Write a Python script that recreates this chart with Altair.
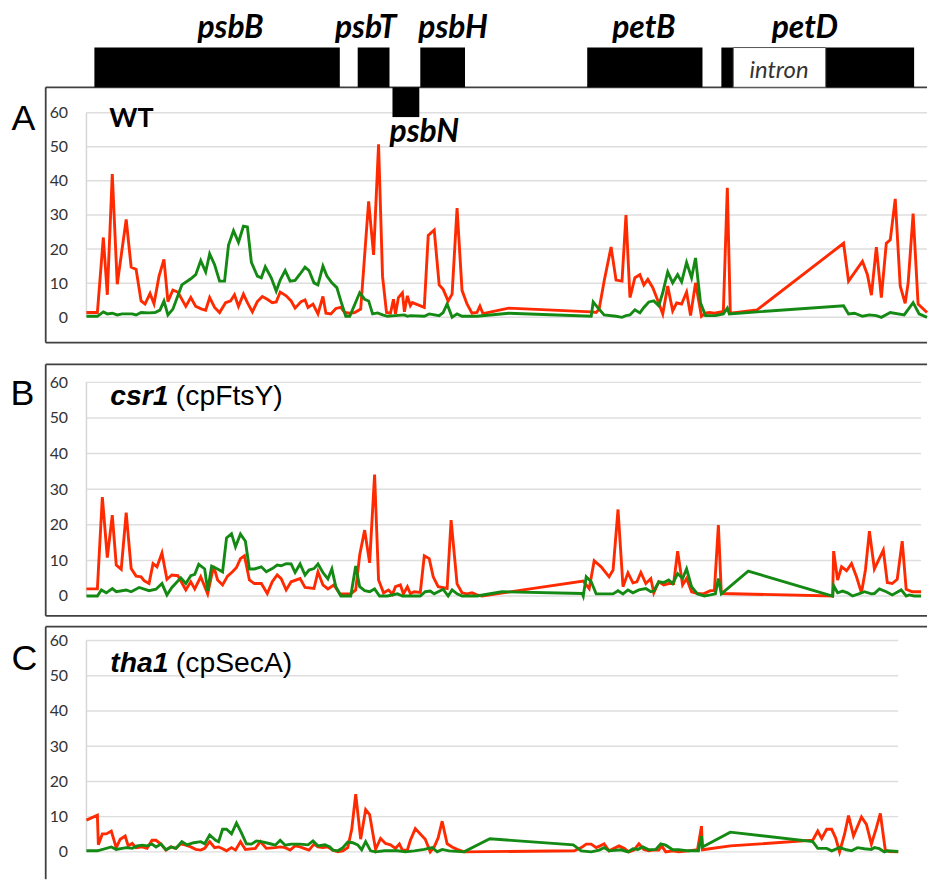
import altair as alt
import pandas as pd

# ---------------- data (position along the map, value) ----------------
RED_A = [(87,1.4),(98,1.4),(104,23.4),(108,6.6),(113,42),(118,9.7),(127,28.7),(132,14.7),(137,14),(142,4.8),
         (146,3.9),(151,7),(155,4),(160,12),(165,17),(169,4.6),(174,8),(179,7.4),(187,3.2),(192,5.8),(197,3.2),
         (203,2.4),(207,2.1),(211,5.8),(216,2.9),(221,1.4),(227,4.3),(232,4.8),(236,6.6),(240,3.2),(245,6.8),
         (249,4.3),(254,1.6),(259,4.6),(264,6.1),(269,5.3),(274,4.3),(278,4.5),(282,7.4),(288,6.3),(293,4.8),
         (297,2.7),(303,4.6),(307,5.1),(310,2.9),(315,3.9),(320,1),(325,6.1),(328,1.2),(333,1),(338,2.6),(343,2.9),
         (347,1.4),(352,1.2),(357,1.4),(363,2.4),(371,34),(376,18.3),(381,50.7),(385,12),(389,1.4),(393,1.2),
         (396,5.3),(398,1),(401,5.8),(405,7.2),(407,1.6),(410,6.3),(413,3.4),(415,4.3),(427,2.9),(431,24),
         (437,25.6),(442,9.5),(446,8.2),(451,4.8),(455,6.8),(460,32),(465,7.9),(470,3.9),(475,1.2),(480,1.4),
         (483,3.3),(486,1.1),(512,2.7),(595,1.6),(600,1.4),(603,2.4),(608,10.6),(615,20.6),(620,10.9),(626,10.6),
         (630,30),(634,5.8),(639,11.6),(644,12.5),(648,9.5),(652,11.1),(657,8.7),(663,4.2),(667,1),(672,9.2),
         (677,1.9),(681,4.2),(686,3.9),(691,7.4),(695,0.5),(700,10.1),(706,0.3),(710,1.2),(714,1.4),(719,1.2),
         (728,1.7),(732,38),(735,1.2),(762,2.2),(849,21.7),(854,10.6),(868,16.4),(873,12.5),(877,6.5),(882,20.6),
         (887,5.8),(892,21.7),(896,22.7),(901,34.7),(906,9.2),(911,4.1),(914,10.1),(919,30.4),(924,3.9),(933,1.4)]

GREEN_A = [(87,0.3),(98,0.3),(104,1.6),(108,1),(113,1.2),(118,0.7),(123,1),(133,1),(137,0.7),(142,1.4),
           (150,1.3),(156,1.4),(161,2.1),(165,4.8),(169,0.7),(174,2.4),(183,9.5),(192,11.3),(197,12.5),(202,16.6),
           (207,13.3),(211,18.6),(216,15.4),(221,10.6),(226,10.6),(230,21.2),(235,25.4),(240,22),(245,26.7),
           (249,26.5),(253,16.1),(259,12.1),(263,11.6),(267,14.8),(273,11.6),(278,7.7),(282,10.9),(287,13.7),
           (292,10.6),(297,10.8),(302,12.7),(307,14.7),(311,13.7),(316,10.1),(320,9.5),(325,15),(329,12.1),
           (334,10.1),(339,8.7),(343,4.8),(348,0.3),(352,0.3),(362,7.2),(367,5.3),(371,4.8),(375,1),(380,1.3),
           (385,0.7),(390,0.3),(398,0.5),(407,0.7),(410,0.3),(413,0.5),(427,0.3),(432,1),(442,0.5),(446,1.4),
           (450,3.9),(455,0),(460,1),(465,0.3),(480,0.3),(512,1.2),(595,0.3),(597,4.5),(602,2.7),(608,0.7),
           (620,0.3),(626,0),(630,0.5),(634,0.7),(639,2.2),(644,1.3),(648,2.9),(653,4.5),(658,4.8),(663,3.4),
           (667,7.2),(672,13.3),(677,10.1),(682,12.5),(686,10.4),(691,16.1),(696,11.6),(700,17.4),(705,4.3),
           (710,0.5),(720,0.5),(728,1),(732,2.7),(734,1),(849,3.4),(854,1),(860,1.2),(868,0.3),(875,0.7),
           (882,0.5),(887,0),(896,1.4),(910,0.7),(919,4.3),(925,1),(933,0)]

RED_B = [(87,2),(98,2),(103,27.8),(108,10.8),(113,22.7),(117,8.7),(122,7.5),(127,23.4),(132,7.7),(137,5.6),
         (142,5.4),(145,4.3),(150,3.5),(154,9.1),(158,8.2),(163,12.1),(168,4.7),(173,5.9),(179,5.7),(187,1.7),
         (192,4),(196,2),(202,5.4),(209,0.6),(215,8.4),(219,4.5),(224,3.1),(229,5.6),(234,6.8),(238,8),(242,10.5),
         (246,11.3),(251,4.5),(256,3.5),(263,3.5),(269,0.7),(274,4),(279,5.9),(283,4.9),(288,1.7),(293,4),
         (302,4.9),(307,2.4),(316,2.1),(320,6.8),(325,3.1),(330,2),(336,3.1),(342,0.6),(353,0.6),(358,1.7),
         (362,11.5),(367,18.5),(372,9.3),(377,34.1),(381,4.5),(386,0.9),(391,1.7),(395,0.5),(398,2.6),(403,3.1),
         (406,0.6),(410,2.6),(413,0.7),(417,1.2),(423,1),(427,11.3),(432,10.5),(436,5.4),(441,2.6),(450,2.1),
         (454,21.3),(460,3.4),(465,0.9),(470,0.6),(475,0.9),(480,0.3),(485,0),(587,4.2),(593,2.1),(598,9.9),
         (605,8.2),(613,5.4),(617,7.3),(622,24.3),(627,2.6),(632,6.5),(637,3.7),(641,4),(645,6.6),(650,3.5),
         (655,4.9),(658,0.9),(663,4),(668,3.1),(673,3.5),(678,3.5),(682,12.6),(687,3.1),(691,4.9),(696,1.2),
         (702,0.7),(708,0.6),(715,1.5),(719,1.5),(723,19.9),(726,0.7),(838,0),(839,12.6),(843,4.5),(847,8.2),
         (852,7.1),(857,9.1),(862,5.4),(867,0.9),(871,7.3),(875,18.2),(880,7.6),(889,12.9),(893,3.8),(898,3.5),
         (903,4.7),(908,15.4),(912,1.9),(918,1.2),(927,1.2)]

GREEN_B = [(87,0),(98,0),(102,1.7),(107,0.9),(113,2.1),(117,1.2),(127,1.7),(132,1.2),(140,2.4),(150,1.5),
           (157,1.9),(163,3.5),(168,0.3),(173,2.4),(182,5.1),(187,3.5),(192,5.7),(196,6.1),(200,8.9),(206,7.6),
           (209,1.5),(213,8.4),(219,7.6),(224,6.8),(228,16.3),(233,17.5),(237,13.8),(242,17.4),(247,15.4),
           (251,7.6),(256,7.6),(263,8.2),(268,6.8),(274,7.7),(279,8.7),(283,8.5),(288,9.1),(293,9),(297,6.6),
           (302,9),(307,5.9),(311,7.3),(316,7.7),(320,9),(325,6.6),(330,4.8),(334,7.6),(338,2.6),(343,0),(353,0),
           (358,8.4),(362,2.6),(367,1.5),(372,1.2),(377,2),(382,0),(390,0),(400,0.6),(405,0),(423,0),(428,1.2),
           (433,1.4),(437,0.6),(441,1.2),(446,1.9),(451,0),(455,1.7),(460,0.6),(465,0),(480,0),(505,1.2),
           (586,0.7),(587,0),(590,5.4),(595,4),(600,0.6),(617,0.6),(622,1.5),(627,0.6),(632,1.7),(637,0.9),
           (643,1.7),(650,2.1),(655,1.2),(658,1.4),(663,4),(668,3.8),(673,4.5),(677,3.5),(682,6.3),(687,4.9),
           (691,7.6),(696,2.6),(702,0.6),(709,0),(715,0.3),(720,0.6),(723,4.9),(726,0.6),(753,7),(838,0),
           (839,2.9),(843,0.9),(848,1.4),(853,0.9),(858,0),(865,0.7),(870,1.2),(877,0.6),(880,0.7),(885,2),
           (892,1.2),(898,0.3),(907,1.7),(912,0),(915,0.3),(920,0),(927,0)]

RED_C = [(87,9),(98,10.4),(99,2),(103,5.1),(107,5.1),(112,5.9),(117,1.2),(121,3.6),(126,4.5),(129,1.7),
         (133,2.4),(137,1.2),(143,1.4),(148,1),(153,3.3),(157,3.3),(162,2.2),(167,0.5),(172,1.4),(177,1),
         (182,2.3),(187,1.9),(192,1.4),(197,0.7),(202,0.5),(206,1),(211,2.9),(216,1.2),(220,1.4),(224,0.9),
         (228,0.3),(233,1.2),(237,0.5),(242,2.9),(247,0.7),(257,1),(262,2.9),(268,1),(277,1.2),(282,1.4),
         (287,1.2),(292,0.5),(297,1.7),(302,1.4),(306,1),(311,0.5),(316,2.2),(320,1.4),(325,1.2),(330,1.4),
         (335,0.5),(340,0),(345,0.3),(350,1.2),(354,6.4),(358,16.4),(363,3.6),(368,12),(372,10.6),(378,0.7),
         (383,3.8),(388,2.4),(393,2),(398,1),(402,2.2),(405,0.5),(410,0.5),(413,3.3),(418,6.6),(423,5.1),
         (428,3.6),(433,0),(437,1.4),(441,4),(445,8.7),(450,2.3),(455,1.4),(460,0.7),(467,0),(578,0.3),
         (586,1.4),(590,2.2),(595,2.2),(600,1.2),(604,1.7),(608,2.3),(613,0.3),(618,1),(623,1.7),(628,1),
         (633,0),(638,0.5),(643,2.3),(648,0.7),(653,0.3),(657,0.5),(663,0.5),(666,1.7),(670,0),(677,0.3),
         (683,0),(693,0.3),(702,0.6),(706,7.3),(707,0.6),(735,1.7),(818,3.3),(823,5.9),(827,3.8),(832,6.4),
         (837,6.4),(841,4),(845,0),(850,5),(854,10.3),(859,4.5),(867,9.9),(872,7.8),(877,2.2),(882,6.8),
         (886,10.9),(891,0.5),(895,0.1),(904,0)]

GREEN_C = [(87,0.3),(98,0.3),(112,1.4),(117,0.7),(127,1.2),(133,1),(138,1.7),(143,1.9),(148,1.7),(153,2.2),
           (157,1.4),(162,2.2),(167,0.6),(172,1.4),(177,1),(183,2.9),(188,2),(195,2.6),(202,2.9),(206,2.3),
           (211,4.8),(217,3.3),(220,2.9),(224,6.4),(228,6.4),(233,5.1),(238,8.2),(243,5.4),(248,2.3),(253,2.2),
           (258,3.1),(263,2.9),(272,2.3),(277,1.9),(282,3.3),(287,1.9),(293,2.2),(302,2.2),(310,2),(315,3.1),
           (320,1.7),(327,2),(332,1.4),(335,0.5),(340,0.3),(345,1.2),(350,2.8),(355,2.6),(360,2),(364,0.6),
           (368,2.9),(373,0.3),(378,0),(387,0.3),(400,0.3),(408,0),(417,0.3),(427,0.7),(435,1.2),(440,0),
           (445,0.7),(452,0.3),(467,0),(493,3.7),(577,2),(585,0.3),(595,0),(603,0.5),(608,1.2),(613,0.3),
           (625,0.6),(632,0),(637,0.9),(642,0.7),(647,1.4),(653,0.6),(660,0.7),(665,2.3),(670,1.9),(677,0.6),
           (683,0.6),(693,0.3),(703,0.3),(706,4.5),(707,1.4),(735,5.6),(818,2.9),(823,1),(832,1),(837,0.3),
           (845,1.2),(852,0.6),(857,0.3),(863,1.2),(870,0.9),(877,0.7),(880,1.2),(885,0.9),(890,0),(893,0.3),
           (904,0.1)]

Y_TICKS = [0, 10, 20, 30, 40, 50, 60]

GENE_NAMES = ["psbB", "psbT", "psbN", "psbH", "petB", "petD exon 1", "petD intron", "petD exon 2"]
GENE_START = [95, 360, 395, 423, 591, 726, 738, 831]
GENE_END = [342, 392, 422, 468, 707, 738, 831, 920]
GENE_STRAND = [1, 1, -1, 1, 1, 1, 1, 1]
GENE_KIND = ["exon", "exon", "exon", "exon", "exon", "exon", "intron", "exon"]

LABEL_TEXT = ["psbB", "psbT", "psbH", "petB", "petD", "psbN"]
LABEL_POS = [232, 368, 456, 648, 810, 427]
LABEL_STRAND = [1, 1, 1, 1, 1, -1]

# ---------------- styling ----------------
W = 933
XS = alt.Scale(domain=[0, W], nice=False, zero=False)
RED = "#ff2a00"
GREEN = "#148a14"
FRAME = "#404040"
ONE = pd.DataFrame({"k": [0]})


def line(pairs, color, ys):
    df = pd.DataFrame(pairs, columns=["pos", "value"])
    return alt.Chart(df).mark_line(color=color, strokeWidth=2.9).encode(
        x=alt.X("pos:Q", scale=XS, axis=None),
        y=alt.Y("value:Q", scale=ys, axis=None),
    )


def text(t, x, y, size, font, weight="normal", style="normal", align="left", baseline="alphabetic", color="black"):
    return alt.Chart(ONE).mark_text(
        text=t, font=font, fontSize=size, fontWeight=weight, fontStyle=style,
        align=align, baseline=baseline, color=color,
    ).encode(x=alt.value(x), y=alt.value(y))


def panel(red, green, ydom, height, grid_end, frame_top, frame_bottom, letter, letter_x, letter_y, titles, extra=()):
    ys = alt.Scale(domain=ydom, nice=False, zero=False)
    grid = alt.Chart(pd.DataFrame({"v": Y_TICKS})).mark_rule(color="#dedede", strokeWidth=1.5).encode(
        y=alt.Y("v:Q", scale=ys, axis=alt.Axis(
            values=Y_TICKS, grid=False, domain=False, ticks=False, tickSize=0, labelPadding=0,
            offset=-68, labelFont="Lato", labelFontSize=16, labelColor="#333", title=None)),
        x=alt.X(datum=87, scale=XS, axis=None),
        x2=alt.X2(datum=grid_end),
    )
    vline = alt.Chart(ONE).mark_rule(color="#d6d6d6", strokeWidth=1.5).encode(
        x=alt.X(datum=87, scale=XS, axis=None),
        y=alt.Y(datum=0, scale=ys, axis=None),
        y2=alt.Y2(datum=60),
    )
    layers = [grid, vline, line(red, RED, ys), line(green, GREEN, ys)]
    layers.append(alt.Chart(ONE).mark_rule(color=FRAME, strokeWidth=1.8).encode(
        x=alt.value(46), x2=alt.value(W), y=alt.value(frame_top)))
    layers.append(alt.Chart(ONE).mark_rule(color=FRAME, strokeWidth=1.8).encode(
        x=alt.value(46), y=alt.value(frame_top), y2=alt.value(frame_bottom)))
    if frame_bottom < height:
        layers.append(alt.Chart(ONE).mark_rule(color=FRAME, strokeWidth=1.8).encode(
            x=alt.value(46), x2=alt.value(W), y=alt.value(frame_bottom)))
    layers.append(text(letter, letter_x, letter_y, 36, "Liberation Sans", align="center", baseline="middle"))
    layers.extend(titles)
    layers.extend(extra)
    return layers


# ---------------- gene map (panel A layer, own y scale) ----------------
gene_df = pd.DataFrame({
    "name": GENE_NAMES, "start": GENE_START, "end": GENE_END,
    "strand": GENE_STRAND, "kind": GENE_KIND,
})
gene_df["y0"] = gene_df["strand"].map({1: 0.0, -1: -0.75})
gene_df["y1"] = gene_df["strand"].map({1: 1.0, -1: 0.0})
GS = alt.Scale(domain=[-6.95, 2.125], nice=False, zero=False)

exons = alt.Chart(gene_df).transform_filter("datum.kind == 'exon'").mark_rect(color="black").encode(
    x=alt.X("start:Q", scale=XS, axis=None), x2="end:Q",
    y=alt.Y("y0:Q", scale=GS, axis=None), y2="y1:Q",
)
introns = alt.Chart(gene_df).transform_filter("datum.kind == 'intron'").mark_rect(
    fill="white", stroke="#555555", strokeWidth=1).encode(
    x=alt.X("start:Q", scale=XS, axis=None), x2="end:Q",
    y=alt.Y("y0:Q", scale=GS, axis=None), y2="y1:Q",
)
lab_df = pd.DataFrame({"label": LABEL_TEXT, "pos": LABEL_POS, "strand": LABEL_STRAND})
lab_df["ly"] = lab_df["strand"].map({1: 1.25, -1: -1.375})
gene_labels = alt.Chart(lab_df).mark_text(
    font="Lato", fontSize=32, fontWeight="bold", fontStyle="italic", align="center", baseline="alphabetic"
).encode(
    x=alt.X("pos:Q", scale=XS, axis=None),
    y=alt.Y("ly:Q", scale=GS, axis=None),
    text="label:N",
)
intron_label = alt.Chart(pd.DataFrame({"pos": [784], "ly": [0.225], "t": ["intron"]})).mark_text(
    font="Lato", fontSize=24, fontStyle="italic", color="#333333", align="center", baseline="alphabetic"
).encode(
    x=alt.X("pos:Q", scale=XS, axis=None),
    y=alt.Y("ly:Q", scale=GS, axis=None),
    text="t:N",
)

# ---------------- panels ----------------
A_layers = panel(
    RED_A, GREEN_A, [-13.54, 92.19], 363, 933, 85, 342, "A", 23.5, 117,
    [text("WT", 110, 125, 27, "Lato", weight="bold")],
    extra=[exons, introns, gene_labels, intron_label],
)
panel_a = alt.layer(*A_layers).resolve_scale(y="independent").properties(width=W, height=363)

B_layers = panel(
    RED_B, GREEN_B, [-8.37, 65.30], 264, 927, 0.9, 254, "B", 22.5, 30.5,
    [text("csr1", 111, 42, 28.5, "Liberation Sans", weight="bold", style="italic"),
     text("(cpFtsY)", 177, 42, 28.5, "Liberation Sans")],
)
panel_b = alt.layer(*B_layers).resolve_scale(y="independent").properties(width=W, height=264)

C_layers = panel(
    RED_C, GREEN_C, [-7.75, 64.14], 255, 904, 0.9, 255, "C", 24.5, 33,
    [text("tha1", 111, 46, 28.5, "Liberation Sans", weight="bold", style="italic"),
     text("(cpSecA)", 177, 46, 28.5, "Liberation Sans")],
)
panel_c = alt.layer(*C_layers).resolve_scale(y="independent").properties(width=W, height=255)

chart = alt.vconcat(panel_a, panel_b, panel_c, spacing=0, bounds="flush").configure_view(
    stroke=None
).properties(padding=0, background="white")

chart.save("out.html", embed_options={"renderer": "svg", "actions": False})
